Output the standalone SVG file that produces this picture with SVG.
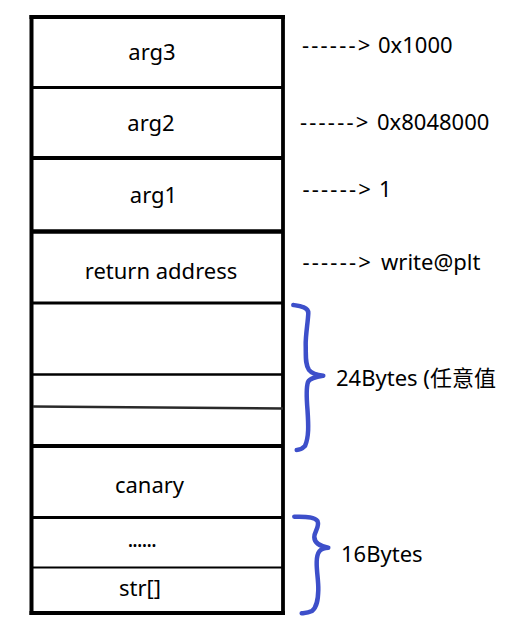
<svg xmlns="http://www.w3.org/2000/svg" width="528" height="629" viewBox="0 0 528 629">
<style>
text{font-family:"Noto Sans","Open Sans","Noto Sans CJK SC",sans-serif;font-size:22px;fill:#000}
.c{text-anchor:middle}
.ln{stroke:#000;fill:none}
.dash{letter-spacing:2.2px}
.brace{fill:none;stroke:#3d4fca;stroke-width:4.5;stroke-linecap:round;stroke-linejoin:round}
</style>
<rect width="528" height="629" fill="#fff"/>
<g id="frame">
<line class="ln" x1="31.5" y1="15" x2="31.5" y2="615" stroke-width="4"/>
<line class="ln" x1="283" y1="15" x2="283" y2="615" stroke-width="3.8"/>
<line class="ln" x1="29.5" y1="17" x2="285" y2="17" stroke-width="4"/>
<line class="ln" x1="29.5" y1="613" x2="285" y2="613" stroke-width="4"/>
</g>
<g id="arg3"><line class="ln" x1="31.5" y1="87.5" x2="283" y2="87.5" stroke-width="3"/><text class="c" x="152" y="60">arg3</text></g>
<g id="arg2"><line class="ln" x1="31.5" y1="158" x2="283" y2="158" stroke-width="4"/><text class="c" x="151" y="131">arg2</text></g>
<g id="arg1"><line class="ln" x1="31.5" y1="231.5" x2="283" y2="231.5" stroke-width="4.5"/><text class="c" x="153.5" y="203">arg1</text></g>
<g id="ret"><line class="ln" x1="31.5" y1="303" x2="283" y2="303" stroke-width="3"/><text class="c" x="161" y="279">return address</text></g>
<g id="pad">
<line class="ln" x1="31.5" y1="374.5" x2="283" y2="374.5" stroke-width="2.5"/>
<line x1="33" y1="406.5" x2="283" y2="408.5" stroke="#2a2a2a" stroke-width="2.5"/>
<line class="ln" x1="31.5" y1="446" x2="283" y2="446" stroke-width="4"/>
</g>
<g id="canary"><line class="ln" x1="31.5" y1="517.5" x2="283" y2="517.5" stroke-width="3"/><text class="c" x="149.5" y="493">canary</text></g>
<g id="dots"><line class="ln" x1="31.5" y1="567.5" x2="283" y2="567.5" stroke-width="2"/><text class="c" x="141.5" y="547" style="letter-spacing:-1.2px">......</text></g>
<g id="str"><text class="c" x="140" y="596">str[]</text></g>
<g id="labels">
<text y="53"><tspan class="dash" x="302">------&gt;</tspan><tspan x="378">0x1000</tspan></text>
<text y="130"><tspan class="dash" x="300">------&gt;</tspan><tspan x="377">0x8048000</tspan></text>
<text y="197"><tspan class="dash" x="302.5">------&gt;</tspan><tspan x="379">1</tspan></text>
<text y="270"><tspan class="dash" x="302.5">------&gt;</tspan><tspan x="381">write@plt</tspan></text>
</g>
<g id="brace24">
<path class="brace" d="M293.3,305 C300,306 308.5,307 308.3,313 C308,322 305.5,335 305.7,345 C306,356 305,364 309,370 C312,374 318,375 323.3,375.7 C316,377 310,378 308,382 C306,388 306.5,398 307.5,410 C308.5,425 309,437 305,446 C302,449 299,450 296.7,450"/>
<text x="336" y="386">24Bytes (任意值</text>
</g>
<g id="brace16">
<path class="brace" d="M294.3,516.7 C303,517 314,516 317.5,521 C320,527 314,532 314.3,537 C314.5,542 318,546 328.3,547.7 C320,548 317,552 316.7,561.7 C316.5,572 318.5,580 318.3,590 C318,600 317,607 312,611 C308,613 305,613 301.7,613.3"/>
<text x="341" y="562">16Bytes</text>
</g>
</svg>
